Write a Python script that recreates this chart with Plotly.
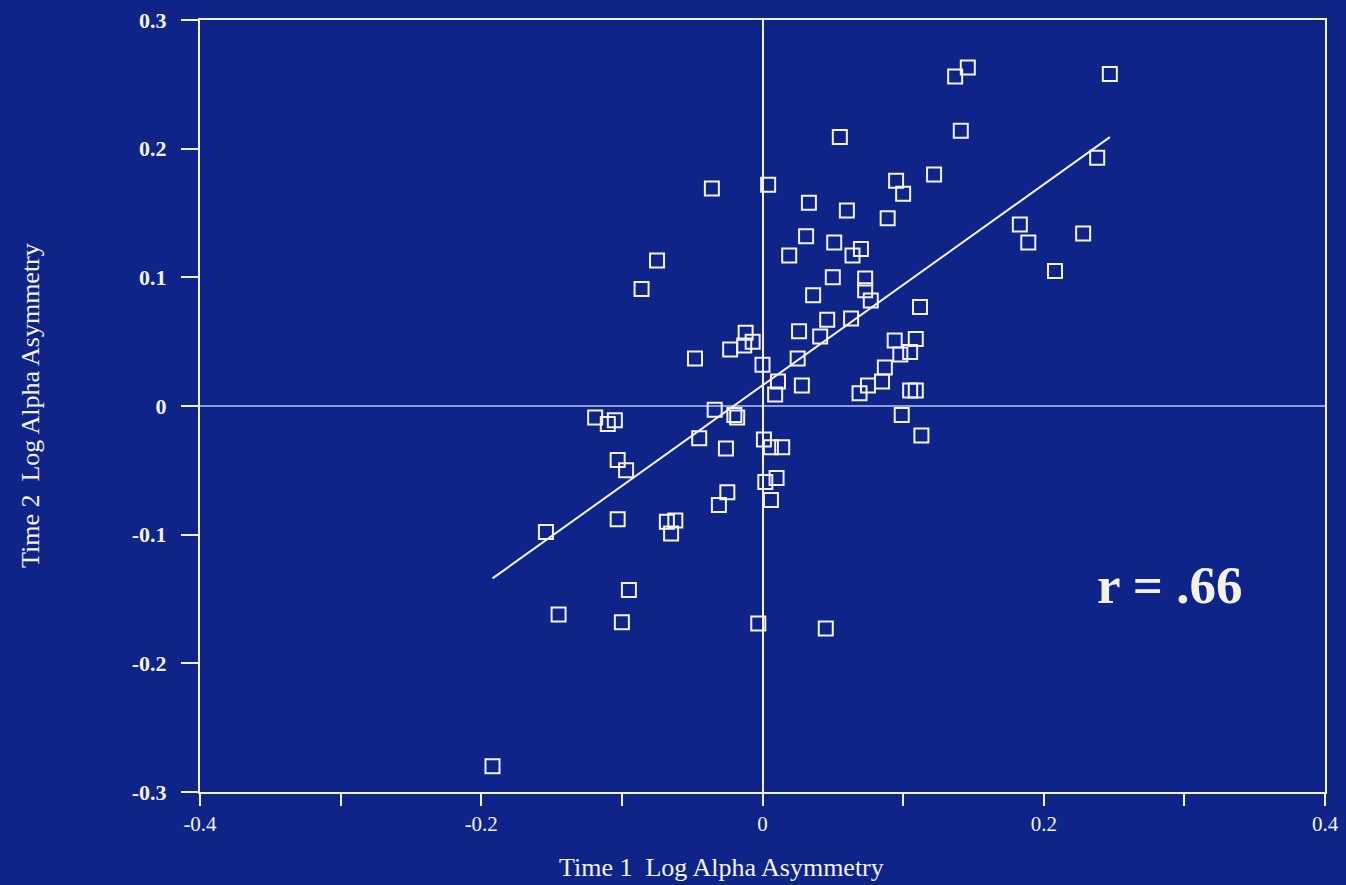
import plotly.graph_objects as go

# Time 1 (x) and Time 2 (y) log alpha asymmetry
time1 = [0.247, 0.146, 0.137, 0.141, 0.055, 0.238, 0.122, 0.095, 0.100, 0.004,
         -0.036, 0.033, 0.060, 0.089, 0.183, 0.189, 0.228, 0.031, 0.051, 0.070,
         0.064, 0.019, 0.208, -0.075, -0.086, 0.050, 0.073, 0.073, 0.077, 0.036,
         0.112, 0.046, 0.063, 0.026, 0.041, 0.094, 0.109, 0.098, 0.105, 0.025,
         0.087, 0.085, 0.075, 0.069, 0.028, 0.011, 0.009, 0.000, 0.105, 0.109,
         0.099, -0.012, -0.013, -0.007, -0.023, -0.048, 0.113, -0.119, -0.110, -0.105,
         -0.034, -0.020, -0.018, -0.045, -0.026, -0.103, -0.097, -0.025, -0.031, -0.103,
         -0.068, -0.062, -0.065, -0.154, 0.001, 0.006, 0.014, 0.002, 0.010, 0.006,
         -0.003, 0.045, -0.145, -0.095, -0.100, -0.192]
time2 = [0.258, 0.263, 0.256, 0.214, 0.209, 0.193, 0.180, 0.175, 0.165, 0.172,
         0.169, 0.158, 0.152, 0.146, 0.141, 0.127, 0.134, 0.132, 0.127, 0.122,
         0.117, 0.117, 0.105, 0.113, 0.091, 0.100, 0.099, 0.090, 0.082, 0.086,
         0.077, 0.067, 0.068, 0.058, 0.054, 0.051, 0.052, 0.040, 0.042, 0.037,
         0.030, 0.019, 0.016, 0.010, 0.016, 0.019, 0.009, 0.032, 0.012, 0.012,
         -0.007, 0.057, 0.047, 0.050, 0.044, 0.037, -0.023, -0.009, -0.014, -0.011,
         -0.003, -0.007, -0.009, -0.025, -0.033, -0.042, -0.050, -0.067, -0.077, -0.088,
         -0.090, -0.089, -0.099, -0.098, -0.026, -0.032, -0.032, -0.059, -0.056, -0.073,
         -0.169, -0.173, -0.162, -0.143, -0.168, -0.280]

# Regression line endpoints
fit_x = [-0.192, 0.247]
fit_y = [-0.134, 0.209]

x_ticks = [-0.4, -0.3, -0.2, -0.1, 0, 0.1, 0.2, 0.3, 0.4]
x_tick_text = ["-0.4", "", "-0.2", "", "0", "", "0.2", "", "0.4"]
y_ticks = [-0.3, -0.2, -0.1, 0, 0.1, 0.2, 0.3]
y_tick_text = ["<b>-0.3</b>", "<b>-0.2</b>", "<b>-0.1</b>", "<b>0</b>",
               "<b>0.1</b>", "<b>0.2</b>", "<b>0.3</b>"]

BG = "#0e2488"
FG = "#f4f1e6"

fig = go.Figure()
fig.add_trace(go.Scatter(
    x=fit_x, y=fit_y, mode="lines",
    line=dict(color=FG, width=2), hoverinfo="skip", showlegend=False))
fig.add_trace(go.Scatter(
    x=time1, y=time2, mode="markers",
    marker=dict(symbol="square-open", size=14, color=FG, line=dict(width=2, color=FG)),
    showlegend=False))

# horizontal zero line (thin, light)
fig.add_shape(type="line", xref="paper", yref="y", x0=0, x1=1, y0=0, y1=0,
              line=dict(color="#b9c9f2", width=1.5), layer="below")

fig.add_annotation(x=0.29, y=-0.139, xref="x", yref="y", text="<b>r = .66</b>",
                   showarrow=False, font=dict(family="Liberation Serif", size=53, color=FG))

fig.update_layout(
    width=1346, height=885,
    paper_bgcolor=BG, plot_bgcolor=BG,
    margin=dict(l=200, r=21, t=20, b=93),
    font=dict(family="Liberation Serif", color=FG),
    xaxis=dict(range=[-0.4, 0.4], tickvals=x_ticks, ticktext=x_tick_text,
               automargin=False,
               ticks="outside", ticklen=12, tickwidth=2, tickcolor=FG,
               showgrid=False, zeroline=True, zerolinecolor=FG, zerolinewidth=2,
               showline=True, linecolor=FG, linewidth=2, mirror=True,
               tickfont=dict(family="Liberation Serif", size=21, color=FG)),
    yaxis=dict(range=[-0.3, 0.3], tickvals=y_ticks, ticktext=y_tick_text,
               automargin=False,
               ticks="outside", ticklen=17, tickwidth=2, tickcolor=FG,
               ticklabelstandoff=10,
               showgrid=False, zeroline=False,
               showline=True, linecolor=FG, linewidth=2, mirror=True,
               tickfont=dict(family="Liberation Serif", size=22, color=FG)),
)

fig.add_annotation(x=(721 - 200) / 1125, y=-0.098, xref="paper", yref="paper",
                   xanchor="center", yanchor="middle",
                   text="Time 1  Log Alpha Asymmetry", showarrow=False,
                   font=dict(family="Liberation Serif", size=26, color=FG))
fig.add_annotation(x=(30 - 200) / 1125, y=0.5, xref="paper", yref="paper",
                   xanchor="center", yanchor="middle", textangle=-90,
                   text="Time 2  Log Alpha Asymmetry", showarrow=False,
                   font=dict(family="Liberation Serif", size=26, color=FG))

fig.write_html("out.html", config={"displayModeBar": False},
               post_script="document.body.style.margin='0';document.body.style.background='" + BG + "';")
